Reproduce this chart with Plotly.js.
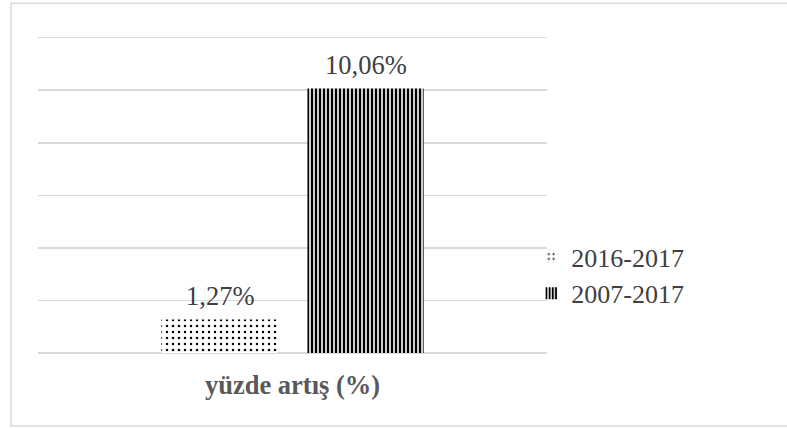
<!DOCTYPE html>
<html>
<head>
<meta charset="utf-8">
<script src="https://cdn.plot.ly/plotly-3.0.1.min.js"></script>
<style>
  html, body { margin: 0; padding: 0; background: #ffffff; }
  #chart { width: 787px; height: 428px; }
</style>
</head>
<body>
<div id="chart"></div>
<script>
// Percentage increase for two periods, one category
const categories = ["<b>yüzde artış (%)</b>"];
const seriesNames = ["2016-2017", "2007-2017"];
const values2016_2017 = [1.27];
const values2007_2017 = [10.06];

const serif = "Liberation Serif, Times New Roman, serif";
const textGrey = "#404040";

const traces = [
  {
    type: "bar",
    name: seriesNames[0],
    x: categories,
    y: values2016_2017,
    marker: {
      color: "#ffffff",
      line: { width: 0 },
      pattern: { shape: ".", fgcolor: "#000000", bgcolor: "#ffffff", size: 6, solidity: 0.14 }
    },
    hoverinfo: "skip"
  },
  {
    type: "bar",
    name: seriesNames[1],
    x: categories,
    y: values2007_2017,
    marker: {
      color: "#ffffff",
      line: { width: 0 },
      pattern: { shape: "|", fgcolor: "#000000", bgcolor: "#ffffff", size: 4, solidity: 0.6 }
    },
    hoverinfo: "skip"
  }
];

// Value labels above each bar, offset sideways to the bar's slot in the group
const fmt = v => v.toFixed(2).replace(".", ",") + "%";
const labelSpecs = [
  { values: values2016_2017, xshift: -73 },
  { values: values2007_2017, xshift: 73 }
];
const annotations = [];
labelSpecs.forEach(spec => {
  spec.values.forEach((v, i) => {
    annotations.push({
      x: categories[i],
      y: v,
      xref: "x",
      yref: "y",
      text: fmt(v),
      showarrow: false,
      xanchor: "center",
      yanchor: "middle",
      xshift: spec.xshift,
      yshift: 23.5,
      font: { family: serif, size: 26.5, color: textGrey }
    });
  });
});

const layout = {
  width: 787,
  height: 428,
  margin: { l: 38, r: 240, t: 35, b: 75 },
  paper_bgcolor: "#ffffff",
  plot_bgcolor: "#ffffff",
  font: { family: serif, color: textGrey },
  barmode: "group",
  bargap: 0.426,
  bargroupgap: 0.205,
  showlegend: true,
  legend: {
    x: 0.969,
    xanchor: "left",
    y: 0.245,
    yanchor: "middle",
    font: { family: serif, size: 26, color: textGrey },
    bgcolor: "rgba(0,0,0,0)",
    itemwidth: 30,
    traceorder: "normal"
  },
  xaxis: {
    type: "category",
    showgrid: false,
    showline: false,
    zeroline: false,
    ticks: "",
    ticklabelstandoff: 13,
    tickfont: { family: serif, size: 26.5, color: "#595959" }
  },
  yaxis: {
    range: [0, 12.1],
    tickvals: [0, 2, 4, 6, 8, 10, 12],
    showticklabels: false,
    showgrid: true,
    gridcolor: "#d9d9d9",
    gridwidth: 1.5,
    zeroline: true,
    zerolinecolor: "#d9d9d9",
    zerolinewidth: 1.5,
    showline: false,
    ticks: ""
  },
  annotations: annotations,
  shapes: [
    {
      type: "rect",
      xref: "paper",
      yref: "paper",
      x0: -0.053,
      x1: 1.48,
      y0: -0.2296,
      y1: 1.1,
      line: { color: "#d9d9d9", width: 1.5 },
      fillcolor: "rgba(0,0,0,0)",
      layer: "below"
    }
  ]
};

Plotly.newPlot("chart", traces, layout, { staticPlot: true, displayModeBar: false });
</script>
</body>
</html>
